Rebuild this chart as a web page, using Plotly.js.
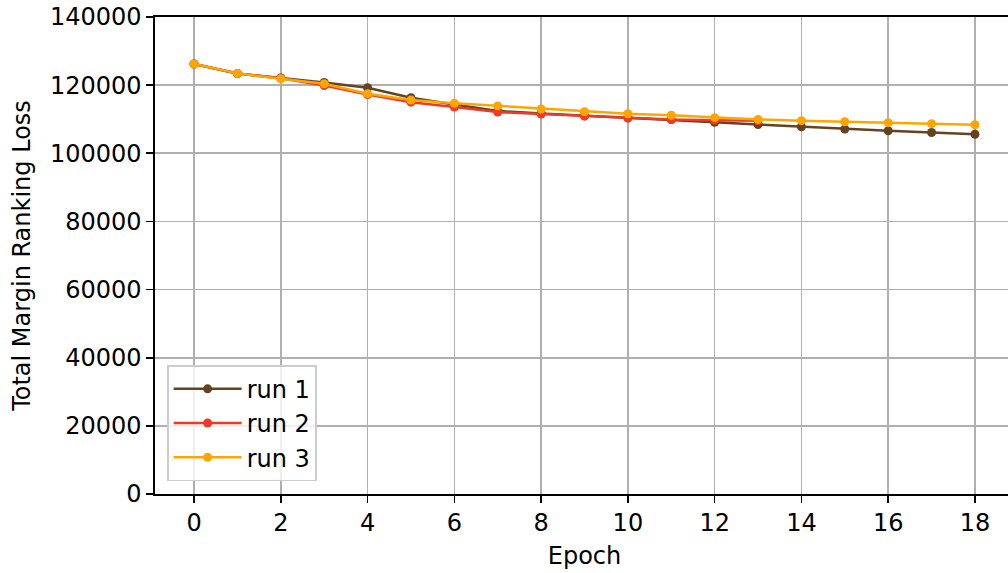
<!DOCTYPE html>
<html>
<head>
<meta charset="utf-8">
<script src="https://cdn.plot.ly/plotly-3.0.1.min.js"></script>
<style>
  html, body { margin: 0; padding: 0; overflow: hidden; background: #fff; }
  #chart { width: 1020px; height: 573px; }
</style>
</head>
<body>
<div id="chart"></div>
<script>
const epochs1 = [0,1,2,3,4,5,6,7,8,9,10,11,12,13,14,15,16,17,18];
const run1 = [126200,123400,122100,120800,119250,116300,114300,112400,111700,111100,110500,109900,109100,108450,107800,107100,106600,106100,105600];
const epochs2 = [0,1,2,3,4,5,6,7,8,9,10,11,12,13];
const run2 = [126200,123400,122000,119900,117250,115000,113600,112100,111500,110900,110300,109900,109700,109550];
const epochs3 = [0,1,2,3,4,5,6,7,8,9,10,11,12,13,14,15,16,17,18];
const run3 = [126200,123450,121900,120400,117500,115650,114700,113900,113000,112200,111600,111150,110450,109950,109570,109270,108980,108690,108390];
const seriesNames = ["run 1", "run 2", "run 3"];
const seriesColors = ["#654321", "#ee3a2b", "#ffa500"];
const xTicks = [0,2,4,6,8,10,12,14,16,18];
const yTicks = [0,20000,40000,60000,80000,100000,120000,140000];

const xs = [epochs1, epochs2, epochs3];
const ys = [run1, run2, run3];
const traces = ys.map((y, i) => ({
  x: xs[i], y: y, name: seriesNames[i], type: "scatter", mode: "lines+markers",
  line: {color: seriesColors[i], width: 2.5},
  marker: {color: seriesColors[i], size: 9}
}));

const F = "DejaVu Sans";
const layout = {
  width: 1020, height: 573,
  margin: {l: 155, r: 6, t: 17, b: 79},
  paper_bgcolor: "#fff", plot_bgcolor: "#fff",
  font: {family: F, size: 24, color: "#000"},
  showlegend: true,
  legend: {
    x: 0.014, y: 0.027, xanchor: "left", yanchor: "bottom",
    bgcolor: "rgba(255,255,255,0.8)", bordercolor: "#cccccc", borderwidth: 1.6,
    itemwidth: 68,
    font: {family: F, size: 24, color: "#000"}
  },
  xaxis: {
    range: [-0.9, 18.9], tickvals: xTicks, ticktext: xTicks.map(String),
    showgrid: true, gridcolor: "#b0b0b0", gridwidth: 1.6,
    showline: true, linecolor: "#000", linewidth: 1.6, mirror: true,
    ticks: "outside", ticklen: 7, tickwidth: 1.6, tickcolor: "#000",
    zeroline: false,
    tickfont: {family: F, size: 24},
    title: {text: "Epoch", font: {family: F, size: 24}, standoff: 11}
  },
  yaxis: {
    range: [0, 140000], tickvals: yTicks, ticktext: yTicks.map(String),
    showgrid: true, gridcolor: "#b0b0b0", gridwidth: 1.6,
    showline: true, linecolor: "#000", linewidth: 1.6, mirror: true,
    ticks: "outside", ticklen: 7, tickwidth: 1.6, tickcolor: "#000",
    zeroline: false,
    tickfont: {family: F, size: 24},
    title: {text: "Total Margin Ranking Loss", font: {family: F, size: 24}, standoff: 12}
  }
};
Plotly.newPlot("chart", traces, layout, {displayModeBar: false, staticPlot: true});
</script>
</body>
</html>
